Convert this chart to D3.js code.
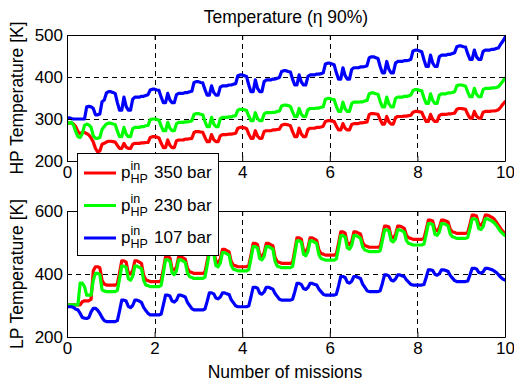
<!DOCTYPE html>
<html><head><meta charset="utf-8">
<script src="https://cdn.jsdelivr.net/npm/d3@7"></script>
<style>
body{margin:0;background:#fff;}
svg text{font-family:"Liberation Sans",Arial,Helvetica,sans-serif;fill:#000;}
</style></head>
<body><svg id="c" width="514" height="381"></svg>
<script>
// ---- data ----
const missionStep = 0.05;           // sample spacing in missions (201 samples from 0 to 10)
const xTicks = [0, 2, 4, 6, 8, 10];
const hpTicks = [200, 300, 400, 500];
const lpTicks = [200, 400, 600];
const seriesNames = ["350 bar", "230 bar", "107 bar"];
const seriesColors = ["#ff0000", "#00ff00", "#0000ff"];

const hpRed = [
292,290,291,288,282,270,265,268,268,265,262,255,245,230,222,224,240,242,245,247,
247,246,245,237,230,230,242,233,230,230,240,242,242,242,243,243,244,244,256,258,
258,257,255,242,232,232,250,237,232,232,248,250,250,250,252,252,253,254,268,270,
270,269,268,256,246,246,263,251,246,246,260,263,263,263,264,264,265,266,278,280,
280,279,277,264,254,254,272,259,254,254,270,272,272,272,274,274,275,276,285,287,
287,286,284,270,258,258,278,264,258,258,275,278,278,278,280,280,281,283,294,296,
296,295,294,283,274,274,289,278,274,274,287,289,289,289,291,291,292,293,311,313,
313,312,311,298,288,288,306,293,288,288,303,306,306,306,307,307,308,309,316,318,
318,317,316,304,294,294,311,299,294,294,308,311,311,311,312,312,313,314,323,325,
325,324,323,311,302,302,318,307,302,302,316,318,318,318,319,319,320,322,328,335,
341];
const hpGreen = [
292,290,292,285,270,258,256,265,285,288,286,280,260,254,254,256,275,282,288,290,
290,288,287,271,258,258,280,264,258,258,277,280,280,280,282,282,284,285,298,300,
300,299,297,283,272,272,292,278,272,272,289,292,292,292,293,293,294,296,311,313,
313,311,310,294,282,282,304,288,282,282,301,304,304,304,305,305,307,308,321,323,
323,322,320,307,296,296,315,301,296,296,312,315,315,315,316,316,318,319,331,333,
333,332,330,317,306,306,325,311,306,306,322,325,325,325,326,326,328,329,347,349,
349,347,346,330,318,318,340,324,318,318,337,340,340,340,341,341,343,344,360,362,
362,360,359,342,329,329,352,336,329,329,349,352,352,352,354,354,355,357,368,370,
370,368,367,350,337,337,360,344,337,337,357,360,360,360,362,362,363,365,379,381,
381,380,378,364,353,353,373,359,353,353,370,373,373,373,374,374,375,377,383,390,
397];
const hpBlue = [
300,303,301,300,300,300,300,300,300,329,330,329,325,310,310,312,341,345,362,365,
365,363,361,339,321,321,352,330,321,321,347,352,352,352,354,354,356,358,369,371,
371,369,368,352,339,339,361,345,339,339,358,361,361,361,363,363,365,366,387,389,
389,387,386,370,357,357,379,363,357,357,376,379,379,379,381,381,383,384,403,405,
405,403,401,381,365,365,393,373,365,365,389,393,393,393,395,395,397,399,413,415,
415,413,412,395,381,381,405,388,381,381,401,405,405,405,407,407,408,410,431,433,
433,431,429,410,395,395,422,403,395,395,418,422,422,422,424,424,425,427,446,448,
448,446,444,425,410,410,437,418,410,410,433,437,437,437,439,439,440,442,462,464,
464,462,460,441,425,425,452,433,425,425,448,452,452,452,454,454,456,458,472,474,
474,472,471,455,442,442,464,448,442,442,461,464,464,464,466,466,468,469,478,485,
494];
const lpRed = [
302,302,302,302,302,302,302,312,315,315,315,320,410,423,423,420,380,368,365,365,
365,365,365,369,404,442,442,438,404,400,411,442,442,438,434,396,381,379,376,376,
376,376,376,380,416,455,455,451,416,412,423,455,455,451,447,418,407,405,402,402,
402,402,402,406,440,478,478,474,440,436,448,478,478,474,470,439,428,426,423,423,
423,423,423,427,460,497,497,493,460,456,467,497,497,493,490,453,439,437,434,434,
434,434,434,438,475,515,515,511,475,470,483,515,515,511,507,477,465,463,460,460,
460,460,460,464,497,534,534,530,497,493,504,534,534,530,527,500,490,488,485,485,
485,485,485,488,519,552,552,549,519,515,525,552,552,549,545,523,515,513,510,510,
510,510,510,513,541,571,571,568,541,537,547,571,571,568,565,542,534,532,529,529,
529,529,529,532,558,587,587,584,558,555,564,587,587,584,580,575,565,555,545,535,
530];
const lpGreen = [
302,302,302,302,302,302,371,371,360,333,333,333,380,402,402,398,350,346,344,344,
344,344,344,348,385,425,425,421,385,380,393,425,425,421,417,380,365,363,360,360,
360,360,360,364,403,445,445,441,403,398,411,445,445,441,437,404,391,389,386,386,
386,386,386,390,427,468,468,464,427,423,435,468,468,464,460,427,415,413,410,410,
410,410,410,414,449,487,487,483,449,445,456,487,487,483,479,440,425,423,420,420,
420,420,420,424,463,505,505,501,463,458,471,505,505,501,497,462,449,447,444,444,
444,444,444,448,483,522,522,518,483,479,491,522,522,518,514,486,476,474,471,471,
471,471,471,474,506,540,540,537,506,502,512,540,540,537,533,506,497,495,492,492,
492,492,492,495,526,560,560,557,526,523,533,560,560,557,553,527,518,516,513,513,
513,513,513,516,544,575,575,572,544,541,550,575,575,572,568,563,555,545,535,528,
522];
const lpBlue = [
296,296,296,294,288,286,275,262,260,259,262,280,291,291,285,275,262,252,249,249,
249,249,249,252,283,317,317,314,297,293,300,317,317,314,310,294,284,275,270,270,
270,270,270,273,302,333,333,330,314,311,317,333,333,330,327,310,300,290,286,286,
286,286,286,289,313,340,340,337,324,321,327,340,340,337,335,318,309,299,296,296,
296,296,296,299,327,358,358,355,339,336,343,358,358,355,352,338,329,320,317,317,
317,317,317,320,343,370,370,367,354,351,357,370,370,367,365,352,344,336,333,333,
333,333,333,336,362,392,392,389,374,371,377,392,392,389,386,368,358,347,344,344,
344,344,344,347,370,397,397,394,381,378,384,397,397,394,392,381,374,367,365,365,
365,365,365,367,389,413,413,411,399,396,401,413,413,411,408,395,387,379,376,376,
376,376,376,378,397,418,418,416,405,403,407,418,418,416,414,410,405,398,390,384,
381];

// ---- chart ----
const svg = d3.select("#c");
const L = 67, R = 505;
const FS = 17, LFS = 17.5;
const x = d3.scaleLinear().domain([0, 10]).range([L, R]);

function panel(top, bottom, domain, ticks, series, ylabel, id, hiddenXLabels) {
  const y = d3.scaleLinear().domain(domain).range([bottom, top]);
  const g = svg.append("g");
  g.append("rect").attr("x", L).attr("y", top).attr("width", R - L).attr("height", bottom - top).attr("fill", "#fff");
  // grid
  const dash = "5,4";
  g.selectAll(".gx").data(xTicks.slice(1, -1)).join("line")
    .attr("x1", d => Math.round(x(d)) + 0.5).attr("x2", d => Math.round(x(d)) + 0.5)
    .attr("y1", top).attr("y2", bottom).attr("stroke", "#000").attr("stroke-width", 1).attr("stroke-dasharray", dash);
  g.selectAll(".gy").data(ticks.slice(1, -1)).join("line")
    .attr("y1", d => Math.round(y(d)) + 0.5).attr("y2", d => Math.round(y(d)) + 0.5)
    .attr("x1", L).attr("x2", R).attr("stroke", "#000").attr("stroke-width", 1).attr("stroke-dasharray", dash);
  // lines
  const clipId = "clip" + id;
  svg.append("clipPath").attr("id", clipId).append("rect")
    .attr("x", L).attr("y", top - 1).attr("width", R - L).attr("height", bottom - top + 2);
  const line = d3.line().x((d, i) => x(i * missionStep)).y(d => y(d));
  const lg = g.append("g").attr("clip-path", `url(#${clipId})`);
  series.forEach((s, k) => {
    lg.append("path").datum(s).attr("d", line).attr("fill", "none")
      .attr("stroke", seriesColors[k]).attr("stroke-width", 3.2)
      .attr("stroke-linejoin", "round").attr("stroke-linecap", "round");
  });
  // axes (MATLAB style: ticks inside, box)
  const tl = 5;
  const xb = g.append("g").attr("transform", `translate(0,${bottom})`)
    .call(d3.axisBottom(x).tickValues(xTicks).tickSizeInner(-tl).tickSizeOuter(0).tickPadding(8)
      .tickFormat(d => hiddenXLabels.includes(d) ? "" : d3.format("d")(d)));
  const xt = g.append("g").attr("transform", `translate(0,${top})`)
    .call(d3.axisTop(x).tickValues(xTicks).tickSizeInner(-tl).tickSizeOuter(0).tickFormat(""));
  const yl = g.append("g").attr("transform", `translate(${L},0)`)
    .call(d3.axisLeft(y).tickValues(ticks).tickSizeInner(-tl).tickSizeOuter(0).tickPadding(4).tickFormat(d3.format("d")));
  const yr = g.append("g").attr("transform", `translate(${R},0)`)
    .call(d3.axisRight(y).tickValues(ticks).tickSizeInner(-tl).tickSizeOuter(0).tickFormat(""));
  [xb, xt, yl, yr].forEach(a => {
    a.selectAll("path.domain").attr("stroke", "#000").attr("stroke-width", 1);
    a.selectAll("line").attr("stroke", "#000");
    a.selectAll("text").attr("font-size", FS).attr("font-family", '"Liberation Sans",Arial,sans-serif').attr("fill", "#000");
  });
  xb.selectAll("text").attr("dy", "0.5em");
  g.append("text").attr("transform", `translate(23,${(top + bottom) / 2}) rotate(-90)`)
    .attr("text-anchor", "middle").attr("font-size", LFS).text(ylabel);
  return y;
}

// the top panel's "2" label lies under the legend in the reference
panel(35, 161, [200, 500], hpTicks, [hpRed, hpGreen, hpBlue], "HP Temperature [K]", "hp", [2]);
panel(211, 337, [200, 600], lpTicks, [lpRed, lpGreen, lpBlue], "LP Temperature [K]", "lp", []);

// title & x label
svg.append("text").attr("x", 286).attr("y", 23).attr("text-anchor", "middle").attr("font-size", LFS)
  .text("Temperature (η 90%)");
svg.append("text").attr("x", 285).attr("y", 378).attr("text-anchor", "middle").attr("font-size", LFS)
  .text("Number of missions");

// legend
const lgd = svg.append("g");
lgd.append("rect").attr("x", 77.5).attr("y", 153.5).attr("width", 141).attr("height", 102)
  .attr("fill", "#fff").attr("stroke", "#000").attr("stroke-width", 1);
seriesNames.forEach((name, i) => {
  const cy = 173 + i * 32.5;
  lgd.append("line").attr("x1", 84).attr("x2", 116).attr("y1", cy).attr("y2", cy)
    .attr("stroke", seriesColors[i]).attr("stroke-width", 3);
  const t = lgd.append("text").attr("x", 121).attr("y", cy + 5).attr("font-size", FS);
  t.append("tspan").text("p");
  t.append("tspan").attr("font-size", 12.5).attr("dy", -8).text("in");
  t.append("tspan").attr("font-size", 12.5).attr("x", 130.5).attr("dy", 13).text("HP");
  t.append("tspan").attr("x", 154).attr("dy", -5).text(name);
});
</script></body></html>
